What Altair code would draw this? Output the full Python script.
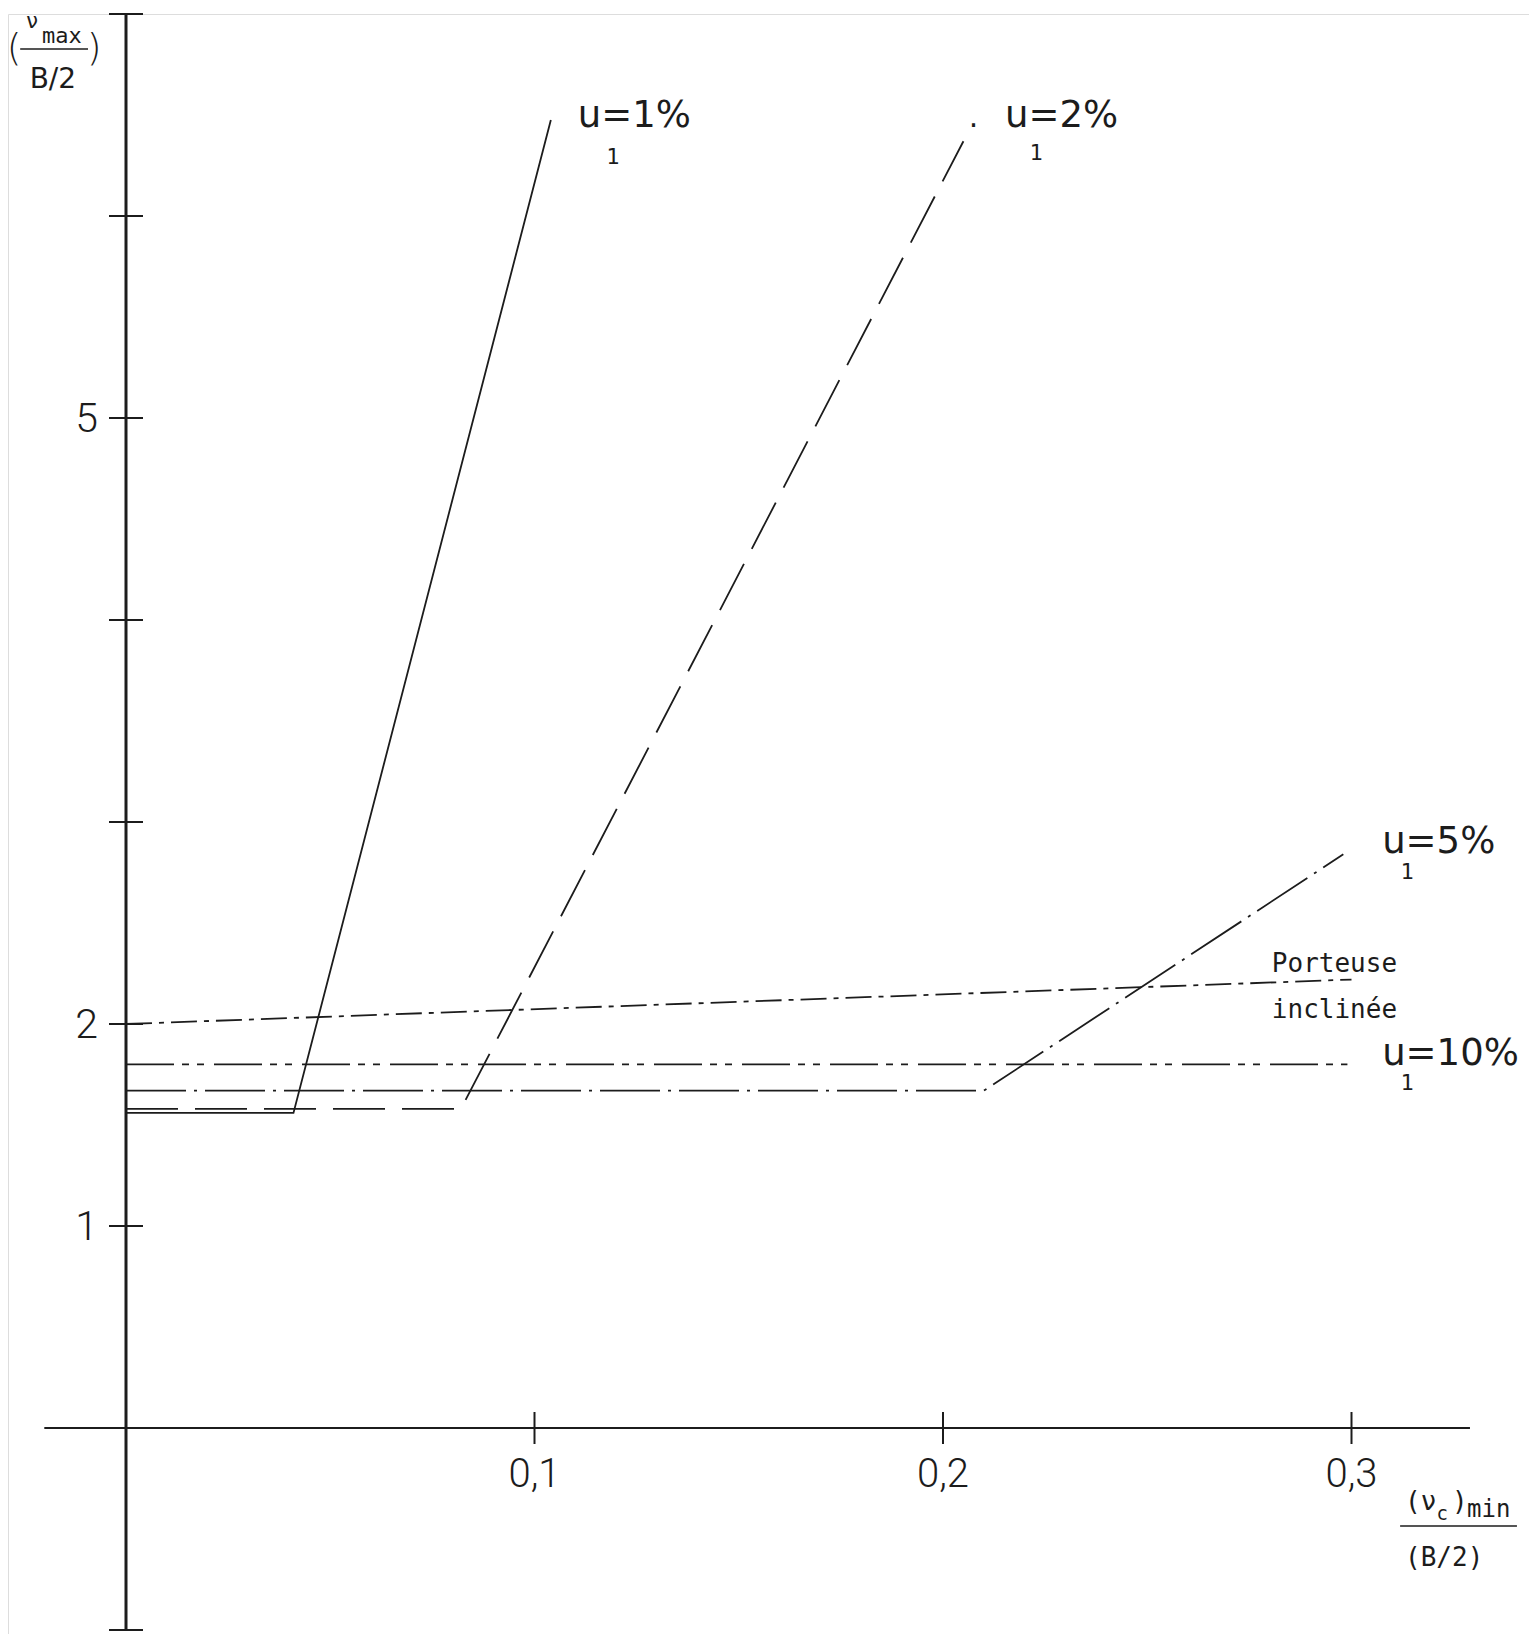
import altair as alt
import pandas as pd

# ---------------- data ----------------
# curves: (nu_c)_min/(B/2) on x, nu_max/(B/2) on y
u1_x = [0.0, 0.041, 0.104]
u1_y = [1.56, 1.56, 6.475]
u2_x = [0.0, 0.082, 0.205]
u2_y = [1.58, 1.58, 6.37]
u5_x = [0.0, 0.210, 0.298]
u5_y = [1.67, 1.67, 2.84]
u10_x = [0.0, 0.299]
u10_y = [1.80, 1.80]
port_x = [0.0, 0.300]
port_y = [2.00, 2.22]

# axes
x_axis_extent = [-0.020, 0.329]
y_axis_extent = [-1.0, 7.0]
x_tick_values = [0.1, 0.2, 0.3]
x_tick_labels = ["0,1", "0,2", "0,3"]
y_tick_values = [-1, 1, 2, 3, 4, 5, 6, 7]
y_label_values = [1, 2, 5]
y_label_texts = ["1", "2", "5"]

# curve annotations (anchor in data units)
curve_label_texts = ["u=1%", "u=2%", "u=5%", "u=10%"]
curve_label_x = [0.1106, 0.2152, 0.3075, 0.3075]
curve_label_y = [6.44, 6.44, 2.847, 1.797]
sub_label_x = [0.1192, 0.2228, 0.3136, 0.3136]
sub_label_y = [6.255, 6.275, 2.716, 1.672]
port_label_texts = ["Porteuse", "inclinée"]
port_label_x = [0.2805, 0.2805]
port_label_y = [2.257, 2.030]

# ---------------- scales ----------------
PX_X0, PX_PER_X = 126, 4085
PX_Y0, PX_PER_Y = 1428, 202
PAD_TOP = 6
W, H = 1521, 1620
LEFT, TOP = 8, 8 + PAD_TOP
XMIN = (LEFT - PX_X0) / PX_PER_X
XMAX = (LEFT + W - PX_X0) / PX_PER_X
YMAX = (PX_Y0 - TOP) / PX_PER_Y
YMIN = (PX_Y0 - TOP - H) / PX_PER_Y
xs = alt.Scale(domain=[XMIN, XMAX], nice=False, zero=False)
ys = alt.Scale(domain=[YMIN, YMAX], nice=False, zero=False)
INK = "#1c1c1c"


def X(f="x"):
    return alt.X(f"{f}:Q", scale=xs, axis=None)


def Y(f="y"):
    return alt.Y(f"{f}:Q", scale=ys, axis=None)


def curve(xv, yv, dash=None, width=1.8):
    df = pd.DataFrame({"x": xv, "y": yv, "o": list(range(len(xv)))})
    kw = dict(color=INK, strokeWidth=width)
    if dash:
        kw["strokeDash"] = dash
    return alt.Chart(df).mark_line(**kw).encode(x=X(), y=Y(), order="o:Q")


def text_layer(texts, xv, yv, **mk):
    df = pd.DataFrame({"x": xv, "y": yv, "t": texts})
    return alt.Chart(df).mark_text(color=INK, **mk).encode(x=X(), y=Y(), text="t:N")


layers = []

# axes lines
layers.append(alt.Chart(pd.DataFrame({"x": [0.0], "y": [y_axis_extent[0]], "y2": [y_axis_extent[1]]}))
              .mark_rule(color=INK, strokeWidth=3).encode(x=X(), y=Y(), y2="y2:Q"))
layers.append(alt.Chart(pd.DataFrame({"x": [x_axis_extent[0]], "x2": [x_axis_extent[1]], "y": [0.0]}))
              .mark_rule(color=INK, strokeWidth=2).encode(x=X(), x2="x2:Q", y=Y()))

# ticks crossing the axes
layers.append(alt.Chart(pd.DataFrame({"x": [0.0] * len(y_tick_values), "y": y_tick_values}))
              .mark_tick(orient="horizontal", size=34, thickness=2, color=INK, opacity=1)
              .encode(x=X(), y=Y()))
layers.append(alt.Chart(pd.DataFrame({"x": x_tick_values, "y": [0.0] * len(x_tick_values)}))
              .mark_tick(orient="vertical", size=32, thickness=2, color=INK, opacity=1)
              .encode(x=X(), y=Y()))

# tick labels
layers.append(text_layer(y_label_texts, [0.0] * 3, y_label_values, align="right", baseline="middle",
                         dx=-28, dy=2, font="Roboto", fontWeight=300, fontSize=41))
layers.append(text_layer(x_tick_labels, x_tick_values, [0.0] * 3, align="center", baseline="middle",
                         dy=47, font="Roboto", fontWeight=300, fontSize=40))

# curves
layers.append(curve(u1_x, u1_y))
layers.append(curve(u2_x, u2_y, dash=[52, 17]))
layers.append(curve(u5_x, u5_y, dash=[60, 8, 3, 8]))
layers.append(curve(u10_x, u10_y, dash=[48, 8, 7, 8, 7, 10]))
layers.append(curve(port_x, port_y, dash=[26, 7, 5, 7]))

# curve labels
layers.append(text_layer(curve_label_texts, curve_label_x, curve_label_y, align="left",
                         baseline="alphabetic", font="DejaVu Sans", fontSize=37))
layers.append(text_layer(["1"] * 4, sub_label_x, sub_label_y, align="center",
                         baseline="alphabetic", font="DejaVu Sans Mono", fontSize=22))
layers.append(text_layer(["."], [0.2075], [6.44], align="center",
                         baseline="alphabetic", font="DejaVu Sans", fontSize=30))
layers.append(text_layer(port_label_texts, port_label_x, port_label_y, align="left",
                         baseline="alphabetic", font="DejaVu Sans Mono", fontSize=26))

# y-axis title: (nu_max / B/2)
layers.append(text_layer(["(", ")"], [-0.0274, -0.0078], [6.827, 6.827], align="center",
                         baseline="middle", font="DejaVu Sans", fontSize=38, fontWeight=200))
layers.append(text_layer(["ν"], [-0.0230], [6.93], align="center", baseline="alphabetic",
                         font="DejaVu Sans", fontSize=21))
layers.append(text_layer(["max"], [-0.0157], [6.856], align="center", baseline="alphabetic",
                         font="DejaVu Sans Mono", fontSize=22))
layers.append(text_layer(["B/2"], [-0.0179], [6.634], align="center", baseline="alphabetic",
                         font="DejaVu Sans", fontSize=28))
layers.append(alt.Chart(pd.DataFrame({"x": [-0.0259], "x2": [-0.0093], "y": [6.827]}))
              .mark_rule(color=INK, strokeWidth=1.5).encode(x=X(), x2="x2:Q", y=Y()))

# x-axis title: (nu_c)_min / (B/2)
layers.append(text_layer(["(ν )"], [0.3131], [-0.406], align="left", baseline="alphabetic",
                         font="DejaVu Sans Mono", fontSize=26))
layers.append(text_layer(["c"], [0.3222], [-0.455], align="center", baseline="alphabetic",
                         font="DejaVu Sans Mono", fontSize=19))
layers.append(text_layer(["min"], [0.3283], [-0.4406], align="left", baseline="alphabetic",
                         font="DejaVu Sans Mono", fontSize=24))
layers.append(text_layer(["(B/2)"], [0.3131], [-0.683], align="left", baseline="alphabetic",
                         font="DejaVu Sans Mono", fontSize=26))
layers.append(alt.Chart(pd.DataFrame({"x": [0.3119], "x2": [0.3405], "y": [-0.485]}))
              .mark_rule(color=INK, strokeWidth=1.5).encode(x=X(), x2="x2:Q", y=Y()))

chart = (alt.layer(*layers)
         .properties(width=W, height=H,
                     padding={"left": 0, "top": PAD_TOP, "right": 0, "bottom": 0},
                     autosize=alt.AutoSizeParams(type="none"))
         .configure_view(strokeWidth=0)
         .configure(background="white"))

chart.save("out.html", embed_options={"renderer": "svg", "actions": False})
